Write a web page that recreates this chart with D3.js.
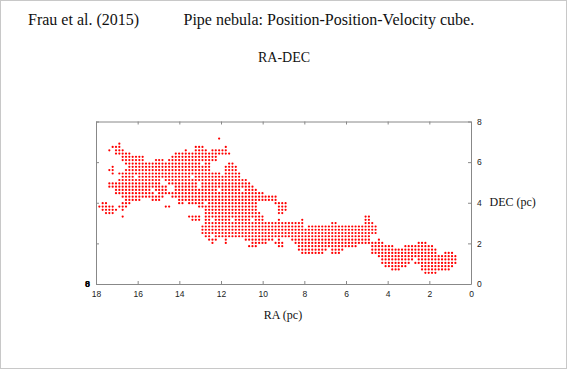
<!DOCTYPE html>
<html>
<head>
<meta charset="utf-8">
<script src="https://cdn.jsdelivr.net/npm/d3@7"></script>
<style>
html, body { margin: 0; padding: 0; background: #fff; }
svg { display: block; }
.tick text { font-family: "Liberation Sans", sans-serif; font-size: 8.5px; fill: #222; }
.axis path, .axis line { stroke: #888; }
.caption { font-family: "Liberation Serif", serif; fill: #111; }
</style>
</head>
<body>
<svg id="diagram" width="567" height="369"></svg>
<script>
var xTicks = [18, 16, 14, 12, 10, 8, 6, 4, 2, 0];
var yTicks = [0, 2, 4, 6, 8];

// RA of the map columns (pc)
var raGrid = [
	17.84, 17.68, 17.52, 17.36, 17.20, 17.04, 16.88, 16.72, 16.56, 16.40,
	16.24, 16.08, 15.92, 15.76, 15.60, 15.44, 15.28, 15.12, 14.97, 14.81,
	14.65, 14.49, 14.33, 14.17, 14.01, 13.85, 13.69, 13.53, 13.37, 13.21,
	13.05, 12.89, 12.73, 12.57, 12.41, 12.25, 12.09, 11.93, 11.77, 11.61,
	11.45, 11.29, 11.13, 10.97, 10.81, 10.65, 10.49, 10.33, 10.17, 10.01,
	9.86, 9.70, 9.54, 9.38, 9.22, 9.06, 8.90, 8.74, 8.58, 8.42,
	8.26, 8.10, 7.94, 7.78, 7.62, 7.46, 7.30, 7.14, 6.98, 6.82,
	6.66, 6.50, 6.34, 6.18, 6.02, 5.86, 5.70, 5.54, 5.38, 5.22,
	5.06, 4.90, 4.74, 4.58, 4.42, 4.26, 4.10, 3.94, 3.78, 3.62,
	3.47, 3.31, 3.15, 2.99, 2.83, 2.67, 2.51, 2.35, 2.19, 2.03,
	1.87, 1.71, 1.55, 1.39, 1.23, 1.07, 0.91, 0.75
];

// DEC of the map rows (pc)
var decRows = [
	7.16, 6.91, 6.75, 6.58, 6.42, 6.26, 6.10, 5.93, 5.77, 5.61,
	5.44, 5.28, 5.12, 4.95, 4.79, 4.63, 4.47, 4.30, 4.14, 3.98,
	3.81, 3.65, 3.49, 3.32, 3.16, 3.00, 2.83, 2.67, 2.51, 2.35,
	2.18, 2.02, 1.86, 1.69, 1.53, 1.37, 1.21, 1.04, 0.88, 0.72, 0.55
];

// filled columns of each row, as [first, last] runs into raGrid
var rowRuns = [
	[[36, 36]],
	[[6, 6]],
	[[4, 6], [29, 31], [38, 38]],
	[[3, 3], [5, 7], [26, 26], [29, 32], [34, 38]],
	[[5, 9], [23, 39]],
	[[7, 13], [22, 35]],
	[[7, 13], [17, 19], [21, 35]],
	[[8, 30], [32, 33], [39, 40]],
	[[4, 4], [9, 33], [38, 41]],
	[[3, 4], [8, 33], [38, 41]],
	[[4, 4], [6, 36], [38, 42]],
	[[7, 10], [12, 27], [29, 42]],
	[[6, 18], [20, 44]],
	[[3, 18], [21, 29], [31, 45]],
	[[3, 20], [23, 29], [31, 46]],
	[[5, 15], [17, 20], [23, 35], [37, 42], [44, 47]],
	[[5, 16], [18, 49]],
	[[7, 19], [22, 53]],
	[[8, 12], [16, 18], [24, 53]],
	[[1, 2], [7, 9], [24, 25], [27, 31], [33, 47], [53, 56]],
	[[0, 4], [6, 8], [20, 21], [30, 47], [54, 56]],
	[[1, 5], [7, 7], [32, 47], [54, 56]],
	[[2, 4], [32, 48], [54, 55]],
	[[7, 7], [27, 30], [32, 49], [80, 81]],
	[[28, 30], [32, 33], [35, 39], [41, 45], [47, 49], [54, 54], [61, 61], [80, 81]],
	[[32, 61], [70, 71], [80, 82]],
	[[31, 61], [63, 83]],
	[[31, 83]],
	[[31, 83]],
	[[32, 33], [35, 81]],
	[[33, 35], [38, 38], [44, 52], [54, 54], [58, 81], [84, 84]],
	[[34, 34], [38, 38], [46, 50], [53, 55], [59, 85], [96, 98]],
	[[45, 47], [54, 55], [60, 77], [82, 88], [92, 100]],
	[[60, 68], [70, 73], [82, 101]],
	[[61, 67], [70, 72], [82, 101], [104, 106]],
	[[84, 107]],
	[[85, 94], [96, 107]],
	[[85, 93], [95, 107]],
	[[86, 92], [97, 106]],
	[[88, 90], [97, 105]],
	[[98, 101]]
];

var svg = d3.select("#diagram"),
	margin = {top: 121.5, right: 96, bottom: 85, left: 96},
	width = +svg.attr("width") - margin.left - margin.right,
	height = +svg.attr("height") - margin.top - margin.bottom;

var x = d3.scaleLinear().domain([18, 0]).range([0, width]),
	y = d3.scaleLinear().domain([0, 8]).range([height, 0]);

// flatten the runs to one point per filled cell
var cells = [];
rowRuns.forEach(function(runs, r){
	runs.forEach(function(run){
		raGrid.slice(run[0], run[1] + 1).forEach(function(ra){
			cells.push({ra: ra, dec: decRows[r]});
		});
	});
});

// window edge of the screenshot
svg.append("rect").attr("width", 567).attr("height", 369)
	.attr("fill", "none").attr("stroke", "#c8c8c8").attr("stroke-width", 2);

var plot = svg.append("g").attr("transform", "translate(" + margin.left + "," + margin.top + ")");

plot.selectAll("circle")
	.data(cells).enter()
	.append("circle")
	.attr("cx", function(d){return x(d.ra);})
	.attr("cy", function(d){return y(d.dec);})
	.attr("r", 1.1)
	.attr("fill", "#ff0000");

var xAxis = d3.axisBottom(x).tickValues(xTicks).tickSizeInner(-3).tickSizeOuter(0).tickPadding(7),
	yAxis = d3.axisRight(y).tickValues(yTicks).tickSizeInner(-3).tickSizeOuter(0).tickPadding(6),
	xTop = d3.axisTop(x).tickValues(xTicks).tickSizeInner(-3).tickSizeOuter(0).tickFormat(""),
	yLeft = d3.axisLeft(y).tickValues(yTicks).tickSizeInner(-3).tickSizeOuter(0).tickFormat("");

plot.append("g").attr("class", "axis").attr("transform", "translate(0," + height + ")").call(xAxis);
plot.append("g").attr("class", "axis").attr("transform", "translate(" + width + ",0)").call(yAxis);
plot.append("g").attr("class", "axis").call(xTop);
plot.append("g").attr("class", "axis").call(yLeft);

// black overprinted labels at the lower left corner of the frame
plot.selectAll(".stray")
	.data(["0", "8"]).enter()
	.append("text")
	.attr("x", -8.5).attr("y", height + 2.5)
	.attr("text-anchor", "middle")
	.attr("font-family", "Liberation Sans")
	.attr("font-size", 9)
	.attr("font-weight", "bold")
	.attr("fill", "#000")
	.text(function(d){return d;});

var caption = function(txt, px, py, size, anchor){
	svg.append("text").attr("class", "caption")
		.attr("x", px).attr("y", py)
		.attr("font-size", size)
		.attr("text-anchor", anchor || "start")
		.text(txt);
};
caption("Frau et al. (2015)", 28, 25, 16);
caption("Pipe nebula: Position-Position-Velocity cube.", 183.5, 25, 16);
caption("RA-DEC", 284, 62, 14, "middle");
caption("RA (pc)", 283, 319, 12, "middle");
caption("DEC (pc)", 489.5, 206, 12);
</script>
</body>
</html>
